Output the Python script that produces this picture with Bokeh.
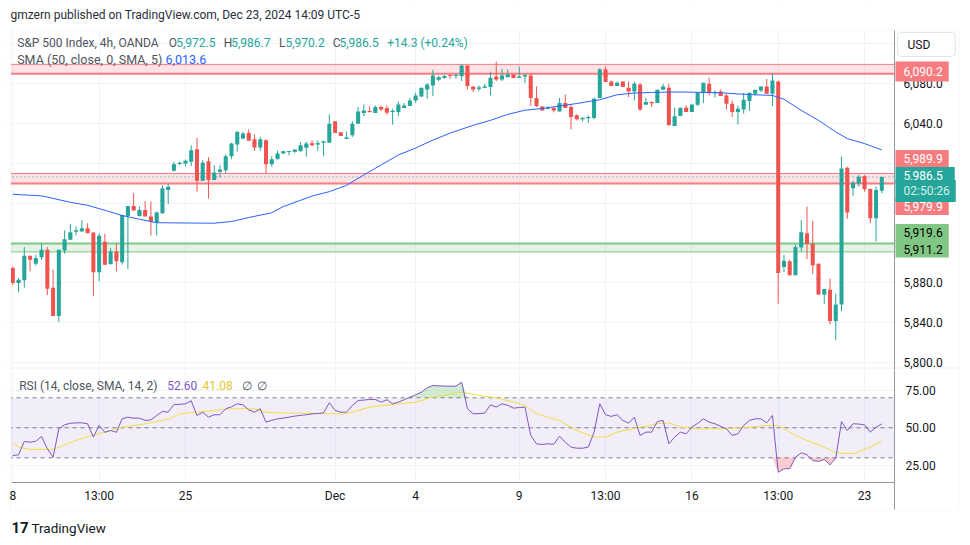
import numpy as np
from bokeh.plotting import figure
from bokeh.layouts import column
from bokeh.models import (Range1d, FixedTicker, Grid, Span, BoxAnnotation, Label,
                          ColumnDataSource, NumeralTickFormatter, LinearAxis)
from bokeh.embed import file_html
from bokeh.resources import INLINE

# ---------------- data ----------------
opens = [5895, 5880, 5882.7, 5907.3, 5899.3, 5905.7, 5913.3, 5875.3, 5846.7, 5912.7,
         5923.3, 5931.7, 5931.7, 5935, 5930.7, 5890.7, 5921.3, 5899, 5911.7, 5900.7,
         5947.3, 5957.3, 5947.3, 5953.3, 5946.7, 5941, 5950, 5973.3, 5992.7, 5999.7,
         6000, 6001.7, 6014.3, 5982.7, 6002.3, 5983.3, 5991.7, 5993.3, 6007.3, 6019,
         6025, 6030.7, 6024.3, 6016, 6023.3, 5999.3, 6004.3, 6010, 6011.7, 6011.7,
         6012.3, 6015.7, 6020.3, 6019.3, 6021.3, 6020.7, 6042.3, 6031.3, 6025, 6028.3,
         6040, 6050.7, 6052.3, 6050.7, 6056.7, 6055.7, 6052, 6051.7, 6055.7, 6057.7,
         6063.3, 6067.3, 6074.3, 6078.3, 6084, 6085.7, 6088.7, 6088, 6087.7, 6098.3,
         6077.3, 6075.3, 6076.3, 6076.7, 6087.3, 6084.3, 6086.7, 6089.3, 6086.3, 6087.7,
         6088.3, 6065.7, 6057.3, 6055.3, 6055.7, 6052.3, 6060.7, 6056.7, 6048.3, 6044.7,
         6045.7, 6045.7, 6065.7, 6094.3, 6082.3, 6077.7, 6082.3, 6076, 6072.3, 6079.3,
         6059, 6061.3, 6060.7, 6074, 6076, 6037.7, 6047.7, 6056, 6051.7, 6059,
         6071, 6080, 6070.7, 6072.3, 6068.3, 6060, 6051.7, 6054.3, 6062.7, 6070,
         6073.3, 6077.3, 6070, 6082.3, 5896, 5901.7, 5887.7, 5915.7, 5930, 5919.3,
         5899.3, 5868.3, 5873.3, 5841.7, 5858.3, 5995.7, 5975, 5980, 5987.3, 5974.3,
         5945, 5972.5]
highs = [5896.7, 5885, 5916, 5907.3, 5908.3, 5920, 5916, 5893.3, 5913.3, 5932.7,
         5939.3, 5936.7, 5943.3, 5940, 5930.7, 5930, 5929.3, 5915, 5920, 5948.3,
         5957.3, 5970, 5956.7, 5962.3, 5961.7, 5951.7, 5978.3, 5979.3, 6001.7, 6001.7,
         6004, 6018.3, 6025.7, 6003.3, 6006.3, 5998.3, 5998.3, 6009, 6020.7, 6032.7,
         6031.7, 6034.3, 6029.3, 6026.7, 6024.3, 6007.3, 6012.7, 6012.7, 6012.3, 6014,
         6021.3, 6021.7, 6023.3, 6023.3, 6022.7, 6049.3, 6042.3, 6031.3, 6031.7, 6042.3,
         6056.7, 6059.3, 6057.3, 6058.3, 6058.3, 6058.3, 6055, 6062.3, 6060.7, 6065.7,
         6071, 6076, 6080.7, 6094, 6088.3, 6089, 6089, 6090, 6099.3, 6098.3,
         6077.3, 6078.3, 6080, 6092.3, 6102.3, 6095, 6094.3, 6090, 6097.3, 6090,
         6090, 6077.3, 6057.3, 6057.3, 6056.7, 6065.7, 6069.3, 6059.3, 6049.3, 6046.7,
         6048.3, 6066, 6095.7, 6097.3, 6083.3, 6082.3, 6082.3, 6082.3, 6082.3, 6081,
         6066, 6062.3, 6074, 6080, 6080, 6056, 6056, 6058.3, 6059.3, 6071,
         6081, 6086, 6073.3, 6074.3, 6070, 6063.3, 6058.3, 6071, 6071, 6074,
         6077.3, 6085, 6091, 6083.3, 5908.3, 5903.3, 5918.3, 5943.3, 5956.7, 5942.3,
         5899.3, 5874, 5884.3, 5869.3, 6006.7, 5996.7, 5982.7, 5988.3, 5988.3, 5975,
         5976.7, 5986.7]
lows = [5877.7, 5870.7, 5875.3, 5891.7, 5897.3, 5903.3, 5867.7, 5846.7, 5840.7, 5909.3,
        5923.3, 5927.7, 5931.7, 5930, 5866.7, 5881.7, 5898.3, 5898.3, 5891.7, 5898.3,
        5894, 5952.7, 5946.7, 5946.7, 5927.7, 5927.7, 5949.3, 5959.3, 5991.7, 5998.3,
        5997.3, 5997.3, 5971.7, 5982.7, 5964.7, 5983.3, 5985.7, 5990, 6004.3, 6011.7,
        6024.3, 6022.7, 6012.7, 6012.7, 5990, 5996.7, 6004.3, 6009.7, 6008.3, 6010.7,
        6012.3, 6006.7, 6017.3, 6012.7, 6007.3, 6020.7, 6030.7, 6027.7, 6024.7, 6026.7,
        6040, 6047.7, 6051.7, 6050.7, 6052.7, 6049, 6039, 6047.7, 6055.7, 6057.7,
        6060.7, 6066.7, 6065, 6067.7, 6082.7, 6085, 6085, 6085, 6082.7, 6074.3,
        6071.7, 6072.7, 6075.7, 6068.3, 6082.7, 6082.7, 6086.7, 6085.7, 6086, 6080.7,
        6057.7, 6056.7, 6053.3, 6054.3, 6051.3, 6052.3, 6055.7, 6034.3, 6043.3, 6042.3,
        6040.7, 6044.3, 6065.7, 6081.7, 6077.7, 6077.7, 6076.7, 6066.7, 6063.3, 6052.7,
        6059, 6056.7, 6060.7, 6074, 6038.3, 6037.7, 6047.7, 6051.7, 6051.7, 6057.7,
        6060.7, 6068.3, 6066, 6067.7, 6054.3, 6046.7, 6039, 6050, 6052.7, 6068.3,
        6071.7, 6070, 6057.7, 5859, 5891, 5887.7, 5887.7, 5911.7, 5904, 5889,
        5868.3, 5859, 5838.3, 5822.7, 5851.7, 5944.3, 5967.7, 5976.7, 5971.7, 5940,
        5921.7, 5970.2]
closes = [5880, 5883.3, 5907.3, 5903.3, 5905, 5913.3, 5874.3, 5846.7, 5913.3, 5924,
          5931, 5932.7, 5935, 5930, 5890.7, 5927.3, 5898.3, 5911.7, 5901.7, 5948.3,
          5957.3, 5952.7, 5953.3, 5946.7, 5941.7, 5950.7, 5975, 5976.7, 5999.3, 6000.3,
          6002.7, 6013.3, 5982.7, 6000.7, 5983.3, 5991, 5994, 6007.3, 6020, 6031.7,
          6030, 6022.7, 6016, 6024.3, 5999.3, 6004.3, 6010, 6012.3, 6012.3, 6014,
          6018.3, 6020, 6018.3, 6020, 6022, 6040, 6030.7, 6027.7, 6025.7, 6040,
          6052.3, 6053.3, 6051.7, 6056.7, 6054.3, 6051, 6052.7, 6059.3, 6058.3, 6063.3,
          6068.3, 6076, 6079.3, 6088.3, 6086.7, 6087.7, 6088, 6088.7, 6098.3, 6077.7,
          6074.3, 6076, 6077, 6086, 6084.3, 6088.3, 6089.3, 6085.7, 6087, 6088.3,
          6065.7, 6057.7, 6053.3, 6056, 6053.3, 6060.7, 6055.7, 6046.7, 6044.3, 6045.3,
          6046.3, 6065, 6094.3, 6081.7, 6077.7, 6081, 6076.7, 6072.3, 6080, 6054.3,
          6061.7, 6060.7, 6074, 6077.3, 6038.3, 6047.3, 6056, 6051.7, 6059.3, 6071,
          6081, 6070.7, 6071.3, 6067.7, 6060, 6051.7, 6055, 6064, 6071, 6074,
          6077.3, 6070, 6083.3, 5890, 5902.3, 5887.7, 5916, 5931, 5919, 5897.7,
          5868.3, 5874, 5841.7, 5858.3, 5995, 5950.7, 5980.7, 5986.7, 5974, 5945,
          5973.3, 5986.5]

sma_idx = [0, 5, 10, 13, 16, 19, 22, 25, 30, 35, 38, 41, 45, 47, 50, 52, 55, 58, 61,
           64, 67, 70, 73, 76, 80, 83, 86, 89, 92, 95, 98, 102, 105, 108, 111, 114,
           117, 120, 123, 126, 129, 132, 134, 137, 140, 143, 145, 148, 151]
sma_val = [5969, 5967.5, 5961, 5958, 5953, 5947.7, 5944, 5940.5, 5940.2, 5940, 5941.7,
           5945.7, 5950.5, 5956.7, 5963, 5967.3, 5971.7, 5978, 5988.5, 5998.5, 6008.5,
           6015.5, 6023.5, 6030.5, 6038.3, 6043.3, 6049.3, 6053.5, 6055.2, 6057.7,
           6060.2, 6064, 6069, 6070.7, 6071.3, 6071.7, 6071.7, 6071.3, 6071, 6069.8,
           6069, 6068.3, 6064.5, 6053.3, 6043.3, 6031.7, 6025, 6020, 6013.6]

rsi_vals = [31.5, 32, 40.9, 40.4, 41, 44.2, 36, 30.4, 49.3, 52, 53, 53.3, 53.3, 52.7,
            43.8, 51.6, 47, 48.2, 47, 56, 57.1, 56.4, 56.5, 54.9, 55.3, 58.2, 60.9, 60.4,
            65.6, 65.6, 66, 68, 58.2, 60.4, 57.1, 58.7, 58.7, 62.7, 64, 66, 65.3, 62,
            60.4, 62.7, 53.8, 55, 56, 56.5, 57.1, 57.8, 58.3, 58.7, 59.3, 59.5, 60, 66.7,
            61.6, 60.4, 60.4, 64.9, 68.2, 68.5, 68.9, 68.9, 67.1, 68.7, 66, 67.1, 68.7,
            70.4, 72, 73.8, 76.7, 78.2, 78, 77.8, 77.8, 77.8, 80.4, 62.7, 59.3, 59.5,
            59.8, 65.3, 63.8, 66, 65, 63.1, 63.5, 63.8, 44.9, 39.3, 38.9, 39.3, 39, 44.4,
            40.4, 37.1, 36.4, 36.4, 37.1, 47, 66, 58.7, 57.6, 58.7, 54.9, 53.1, 57.1,
            44.9, 47.1, 47.1, 54.2, 54.9, 39.3, 43.8, 47.1, 46, 50.4, 53, 56, 53.8, 52.7,
            51, 49.3, 44.9, 46, 51.6, 54.9, 56, 56, 53.3, 58.2, 20.4, 22.7, 22.7, 30.4,
            33.3, 32, 28.2, 27.6, 28.9, 25.3, 29.8, 54.2, 48.2, 52.7, 52.5, 52, 47.1,
            50.4, 52.6]
rsi_ma_idx = [0, 1, 3, 7, 8, 11, 14, 16, 19, 23, 27, 29, 32, 35, 38, 42, 44, 47, 51, 56,
              58, 62, 67, 70, 73, 78, 81, 84, 87, 89, 91, 95, 98, 101, 103, 105, 109,
              112, 114, 116, 119, 123, 127, 131, 133, 136, 138, 141, 143, 146, 149, 151]
rsi_ma_val = [40, 37.1, 35.6, 35.6, 37, 41.6, 45.3, 47.1, 50.4, 52.7, 55.6, 59.3, 60.4,
              61.6, 62.7, 62.7, 60.4, 59.8, 59.8, 59.3, 59.3, 63.8, 66, 67.1, 70.4, 73.8,
              71.6, 70, 67.1, 64.9, 59.3, 54.9, 48.2, 43.8, 43.8, 47.1, 50.4, 52.7, 53.3,
              50.4, 49.3, 49.3, 50, 51.6, 51.6, 44.9, 41.6, 37.1, 33.3, 32.7, 37.1, 41.08]

tick_idx = [0, 15, 30, 56, 70, 88, 103, 118, 133, 148]
tick_lbl = ["8", "13:00", "25", "Dec", "4", "9", "13:00", "16", "13:00", "23"]
price_ticks = [5800, 5840, 5880, 5920, 5960, 6000, 6040, 6080]
price_grid = price_ticks + [6120]
rsi_ticks = [25, 50, 75]
rsi_levels = [70, 50, 30]

red_zones = [(6090.2, 6099.5), (5979.9, 5989.9)]
green_zone = (5911.2, 5919.6)
last_price = 5986.5
countdown = "02:50:26"
change, change_pct = 14.3, 0.24
rsi_last, rsi_ma_last = 52.60, 41.08

# ---------------- styling / layout constants ----------------
UP, DN = "#26a69a", "#ef5350"
GRID = "#f0f3fa"
TXT = "#131722"
GRAY = "#50535e"
BORDER = "#e0e3eb"
AXLINE = "#9598a1"
RED_LINE, RED_FILL = "#f77c80", "#f23645"
GRN_LINE, GRN_FILL = "#81c784", "#4caf50"
FONT = "Roboto"

W = 970
H1, H2 = 370, 175            # top pane canvas, bottom pane canvas
SEP = 368                    # pixel row of the pane separator
X0, BAR = 12.3, 5.755        # pixel of bar 0, pixels per bar
PANE_L, PANE_R = 11, 894     # plotting pane edges (pixels)
PANE_T = 30
RSI_B = 482                  # bottom of RSI pane (pixels)
PY0, PPX = 83.3, 0.9958      # pixel of 6080, pixels per point
RY0, RPX = 397.3, 1.5        # pixel of RSI 70, pixels per RSI unit


def xdata(px):
    return (px - X0) / BAR


def pdata(py):
    return 6080 - (py - PY0) / PPX


def rdata(py):
    return 70 - (py - RY0) / RPX


n = len(opens)
idx = np.arange(n)
o = np.array(opens); c = np.array(closes)
colors = [UP if cc >= oo else DN for oo, cc in zip(opens, closes)]
src = ColumnDataSource(dict(x=idx, o=o, h=highs, l=lows, c=c,
                            top=np.maximum(o, c), bot=np.minimum(o, c),
                            mid=(o + c) / 2, col=colors))

xr = Range1d(xdata(0), xdata(W))

p1 = figure(width=W, height=H1, x_range=xr, y_range=Range1d(pdata(H1), pdata(0)),
            output_backend="svg", toolbar_location=None, x_axis_location=None,
            y_axis_location=None, min_border=0)
p2 = figure(width=W, height=H2, x_range=xr, y_range=Range1d(rdata(H1 + H2), rdata(H1)),
            output_backend="svg", toolbar_location=None, x_axis_location=None,
            y_axis_location=None, min_border=0)

for p in (p1, p2):
    p.outline_line_color = None
    p.background_fill_color = "white"
    p.border_fill_color = "white"
    for g in p.grid:
        g.visible = False
    p.add_layout(Grid(dimension=0, ticker=FixedTicker(ticks=tick_idx),
                      grid_line_color=GRID))


def style_axis(ax, standoff):
    ax.major_tick_line_color = None
    ax.minor_tick_line_color = None
    ax.major_tick_out = 0
    ax.major_tick_in = 0
    ax.major_label_standoff = standoff
    ax.axis_line_color = AXLINE
    ax.major_label_text_font = FONT
    ax.major_label_text_font_size = "12px"
    ax.major_label_text_color = TXT


pax = LinearAxis(fixed_location=xdata(PANE_R), bounds=(pdata(H1), pdata(PANE_T)),
                 ticker=FixedTicker(ticks=price_ticks),
                 formatter=NumeralTickFormatter(format="0,0.0"))
style_axis(pax, 9)
p1.add_layout(pax, "right")

rax = LinearAxis(fixed_location=xdata(PANE_R), bounds=(rdata(509), rdata(H1)),
                 ticker=FixedTicker(ticks=rsi_ticks),
                 formatter=NumeralTickFormatter(format="0.00"))
style_axis(rax, 11)
p2.add_layout(rax, "right")

tax = LinearAxis(fixed_location=rdata(RSI_B), bounds=(xdata(PANE_L), xdata(PANE_R)),
                 ticker=FixedTicker(ticks=tick_idx),
                 major_label_overrides={t: s for t, s in zip(tick_idx, tick_lbl)})
style_axis(tax, 6)
p2.add_layout(tax, "below")

p1.add_layout(Grid(dimension=1, ticker=FixedTicker(ticks=price_grid), grid_line_color=GRID))
p2.add_layout(Grid(dimension=1, ticker=FixedTicker(ticks=rsi_ticks), grid_line_color=GRID))

# ---------------- zones ----------------
for lo, hi in red_zones:
    p1.add_layout(BoxAnnotation(bottom=lo, top=hi, fill_color=RED_FILL, fill_alpha=0.14,
                                line_color=None, level="underlay"))
    p1.add_layout(Span(location=hi, dimension="width", line_color=RED_LINE,
                       line_width=1, level="underlay"))
    p1.add_layout(Span(location=lo, dimension="width", line_color=RED_LINE,
                       line_width=2, level="underlay"))
glo, ghi = green_zone
p1.add_layout(BoxAnnotation(bottom=glo, top=ghi, fill_color=GRN_FILL, fill_alpha=0.15,
                            line_color=None, level="underlay"))
p1.add_layout(Span(location=ghi, dimension="width", line_color=GRN_LINE, line_width=2,
                   level="underlay"))
p1.add_layout(Span(location=glo, dimension="width", line_color=GRN_LINE, line_width=1,
                   level="underlay"))
p1.add_layout(Span(location=last_price, dimension="width", line_color=UP, line_width=1,
                   line_dash="1 3", level="underlay"))

# ---------------- candles ----------------
p1.segment(x0="x", y0="l", x1="x", y1="h", color="col", line_width=1, source=src)
p1.vbar(x="x", top="top", bottom="bot", width=0.7, fill_color="col", line_color=None,
        source=src)
p1.rect(x="x", y="mid", width=0.7, height=1.2, height_units="screen", fill_color="col",
        line_color=None, source=src)
p1.line(sma_idx, sma_val, line_color="#2962ff", line_width=1)

# ---------------- RSI ----------------
rsi = np.array(rsi_vals)
p2.add_layout(BoxAnnotation(bottom=30, top=70, fill_color="#7e57c2", fill_alpha=0.1,
                            line_color=None, level="underlay"))
for lv in rsi_levels:
    p2.add_layout(Span(location=lv, dimension="width", line_color="#787b86",
                       line_width=1, line_dash="4 4", level="underlay"))
p2.varea(x=idx, y1=70, y2=np.maximum(rsi, 70), fill_color="#4caf50", fill_alpha=0.25)
p2.varea(x=idx, y1=np.minimum(rsi, 30), y2=30, fill_color="#f23645", fill_alpha=0.25)
p2.line(rsi_ma_idx, rsi_ma_val, line_color="#f2dd45", line_width=1)
p2.line(idx, rsi, line_color="#7e57c2", line_width=1)


# ---------------- masks outside the panes (white) ----------------
def sbox(fig, l, r, b, t, **kw):
    fig.add_layout(BoxAnnotation(left=l, right=r, bottom=b, top=t, left_units="screen",
                                 right_units="screen", bottom_units="screen",
                                 top_units="screen", **kw))


for fig, hh in ((p1, H1), (p2, H2)):
    sbox(fig, PANE_R, W + 5, -5, hh + 5, fill_color="white", fill_alpha=1,
         line_color=None, level="glyph")
    sbox(fig, -5, PANE_L - 0.5, -5, hh + 5, fill_color="white", fill_alpha=1,
         line_color=None, level="glyph")
sbox(p1, -5, W + 5, H1 - PANE_T, H1 + 5, fill_color="white", fill_alpha=1,
     line_color=None, level="glyph")
sbox(p2, -5, W + 5, -5, H1 + H2 - RSI_B, fill_color="white", fill_alpha=1,
     line_color=None, level="glyph")

# widget border and pane separator
sbox(p1, PANE_L - 1, 958.5, H1 - SEP + 0.5, H1 - PANE_T + 0.5, fill_alpha=0,
     line_color=BORDER, line_width=1, level="glyph")
sbox(p1, PANE_L - 1, 958.5, -5, H1 - SEP + 0.5, fill_alpha=0,
     line_color=BORDER, line_width=1, level="glyph")
sbox(p2, PANE_L - 1, 958.5, H1 + H2 - 509.5, H2 + 5, fill_alpha=0, line_color=BORDER,
     line_width=1, level="glyph")


def lab(fig, x, y, text, color, size=12, **kw):
    fig.add_layout(Label(x=x, y=y, x_units="screen", y_units="screen", text=text,
                         text_color=color, text_font=FONT,
                         text_font_size=f"{size}px", text_baseline="middle", **kw))


# header and legends (screen coords: pixels from each canvas' bottom-left)
lab(p1, 10, H1 - 14, "gmzern published on TradingView.com, Dec 23, 2024 14:09 UTC-5",
    "#2a2e39", 12)
lab(p1, 16.7, H1 - 42, "S&P 500 Index, 4h, OANDA", GRAY)
for sx, letter, vx, val in [(168.3, "O", 175.7, opens[-1]), (223.3, "H", 230.7, highs[-1]),
                            (278.5, "L", 285, lows[-1]), (332.3, "C", 339, closes[-1])]:
    lab(p1, sx, H1 - 42, letter, GRAY)
    lab(p1, vx, H1 - 42, f"{val:,.1f}", UP)
lab(p1, 386.7, H1 - 42, f"+{change:.1f} (+{change_pct:.2f}%)", UP)
lab(p1, 16.7, H1 - 59, "SMA (50, close, 0, SMA, 5)", GRAY, 12.5)
lab(p1, 165, H1 - 59, f"{sma_val[-1]:,.1f}", "#2962ff", 12.5)

RS = H1 + H2
lab(p2, 18.7, RS - 385, "RSI (14, close, SMA, 14, 2)", GRAY)
lab(p2, 166.7, RS - 385, f"{rsi_last:.2f}", "#7e57c2")
lab(p2, 202, RS - 385, f"{rsi_ma_last:.2f}", "#e5c52e")
lab(p2, 241, RS - 385, "\u2205", GRAY)
lab(p2, 256, RS - 385, "\u2205", GRAY)

# footer
lab(p2, 11, RS - 527, "17", TXT, 15, text_font_style="bold")
lab(p2, 31, RS - 527, "TradingView", TXT, 13.5)

# USD box
lab(p1, 897, H1 - 44, "USD", TXT, 12, background_fill_color="white",
    border_line_color=BORDER, border_radius=4,
    padding=dict(left=10, right=25, top=5, bottom=5))

# price tags on the axis
tags = [(red_zones[1][1], 158, RED_LINE, "white"),
        (red_zones[1][0], 206, RED_LINE, "white"),
        (green_zone[1], 232, GRN_LINE, "black"),
        (green_zone[0], 248.5, GRN_LINE, "black")]
lab(p1, 895, H1 - 71, f"{red_zones[0][0]:,.1f}", "white", 12,
    background_fill_color=RED_LINE, padding=dict(left=8, right=6, top=5, bottom=6))
for lvl, py, bg, fg in tags:
    lab(p1, 895, H1 - py, f"{lvl:,.1f}", fg, 12, background_fill_color=bg,
        padding=dict(left=8, right=6, top=4, bottom=4))
lab(p1, 895, H1 - 175, f"{last_price:,.1f}", "white", 12, background_fill_color=UP,
    padding=dict(left=8, right=12, top=4, bottom=4))
lab(p1, 895, H1 - 190.5, countdown, "#d7efec", 12, background_fill_color=UP,
    padding=dict(left=8, right=6, top=4, bottom=4))

layout = column(p1, p2, spacing=0)
open("out.html", "w").write(file_html(layout, INLINE))
